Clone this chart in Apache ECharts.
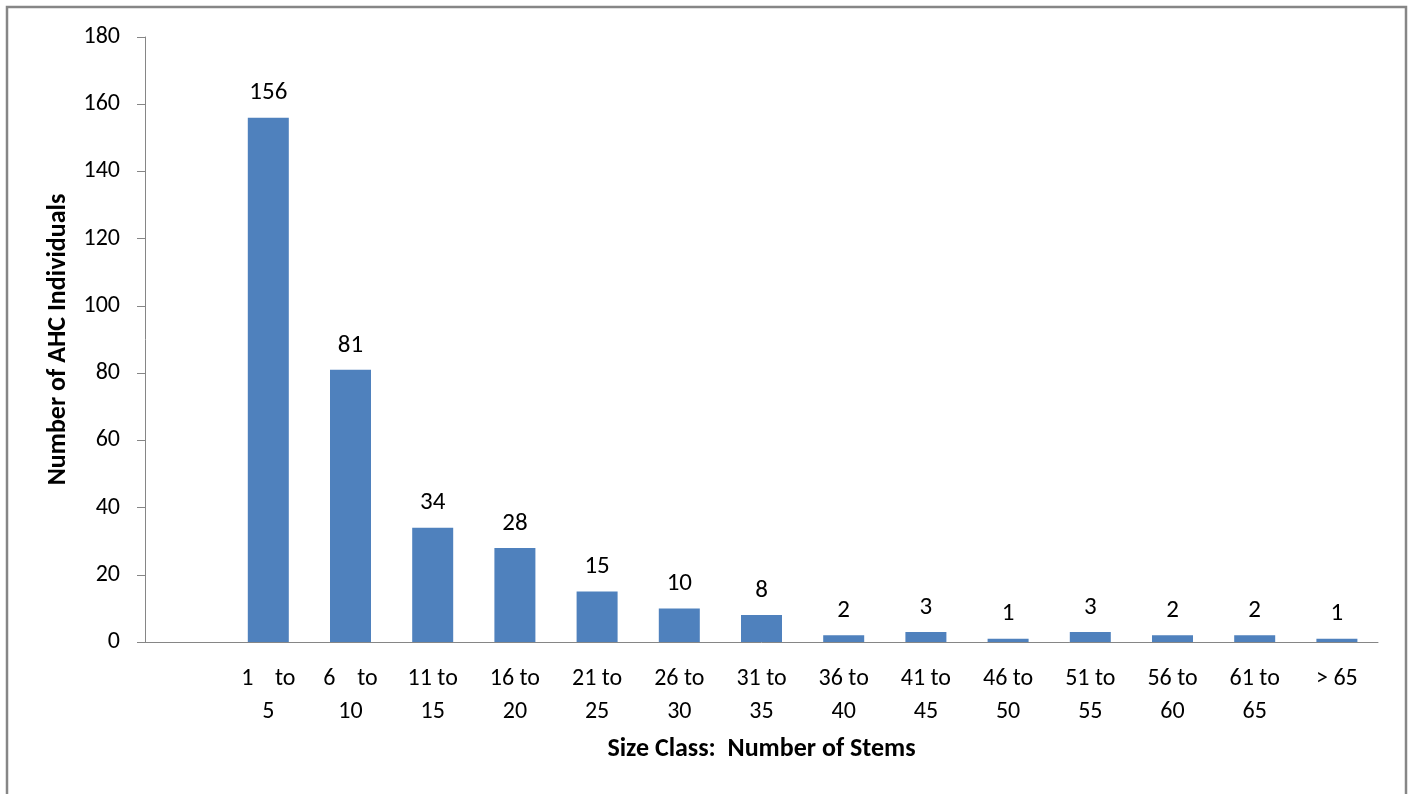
<!DOCTYPE html>
<html>
<head>
<meta charset="utf-8">
<script src="https://cdn.jsdelivr.net/npm/echarts@6/dist/echarts.min.js"></script>
<style>
  html, body { margin: 0; padding: 0; background: #fff; }
  #main { width: 1411px; height: 794px; }
</style>
</head>
<body>
<div id="main"></div>
<script>
// size classes (first slot is empty in the original chart)
const sizeClasses = ['', '1    to\n5', '6    to\n10', '11 to\n15', '16 to\n20', '21 to\n25', '26 to\n30',
  '31 to\n35', '36 to\n40', '41 to\n45', '46 to\n50', '51 to\n55', '56 to\n60', '61 to\n65', '> 65']
const individuals = [null, 156, 81, 34, 28, 15, 10, 8, 2, 3, 1, 3, 2, 2, 1]
const yTicks = { min: 0, max: 180, interval: 20 }

const font = 'Carlito, "Open Sans", "Liberation Sans", sans-serif'
const chart = echarts.init(document.getElementById('main'))
const option = {
  animation: false,
  backgroundColor: '#fff',
  // outer frame of the chart area
  graphic: [{
    type: 'rect',
    shape: { x: 7, y: 7, width: 1399, height: 820 },
    style: { fill: 'none', stroke: '#868686', lineWidth: 2.5 }
  }],
  grid: { left: 145, right: 33, top: 37, bottom: 152 },
  xAxis: {
    type: 'category',
    data: sizeClasses,
    name: 'Size Class:  Number of Stems',
    nameLocation: 'middle',
    nameGap: 94,
    nameTextStyle: { fontFamily: font, fontSize: 26, fontWeight: 'bold', color: '#000' },
    axisLine: { lineStyle: { color: '#868686', width: 1 } },
    axisTick: { show: false },
    axisLabel: {
      interval: 0,
      margin: 20,
      fontFamily: font,
      fontSize: 24,
      lineHeight: 33,
      color: '#000'
    }
  },
  yAxis: {
    type: 'value',
    min: yTicks.min,
    max: yTicks.max,
    interval: yTicks.interval,
    name: 'Number of AHC Individuals',
    nameLocation: 'middle',
    nameGap: 74,
    nameTextStyle: { fontFamily: font, fontSize: 26, fontWeight: 'bold', color: '#000' },
    axisLine: { show: true, lineStyle: { color: '#868686', width: 1 } },
    axisTick: { show: true, length: 8, lineStyle: { color: '#868686' } },
    splitLine: { show: false },
    axisLabel: { fontFamily: font, fontSize: 24, color: '#000', margin: 25 }
  },
  series: [{
    type: 'bar',
    data: individuals,
    barWidth: 41,
    itemStyle: { color: '#4F81BD' },
    label: {
      show: true,
      position: 'top',
      distance: 12,
      fontFamily: font,
      fontSize: 25,
      color: '#000'
    }
  }]
}
chart.setOption(option)
</script>
</body>
</html>
